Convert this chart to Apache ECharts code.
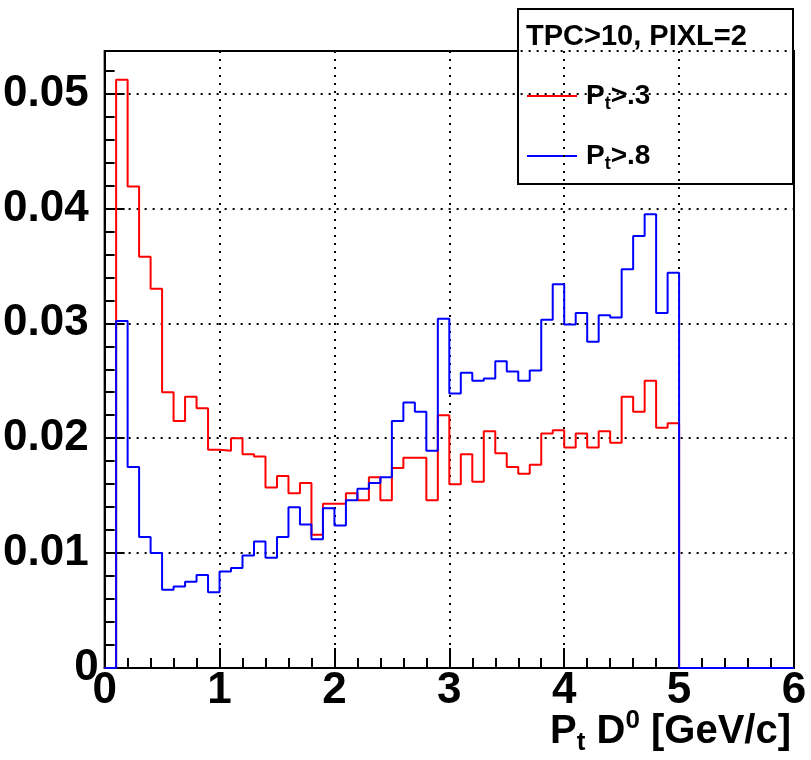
<!DOCTYPE html>
<html>
<head>
<meta charset="utf-8">
<script src="https://cdn.jsdelivr.net/npm/echarts@6/dist/echarts.min.js"></script>
<style>
  html, body { margin: 0; padding: 0; background: #ffffff; }
  #chart { width: 811px; height: 760px; }
</style>
</head>
<body>
<div id="chart"></div>
<script>
// Histogram binning: 60 bins of 0.1 GeV/c from 0 to 6
const binWidth = 0.1;
const xMin = 0;
const xMax = 6;
const yMin = 0;
const yMax = 0.0537;

// Normalised D0 pT distribution, track pT > 0.3 GeV/c
const redValues = [
  0, 0.0512, 0.0419, 0.0358, 0.0330, 0.0240, 0.0215, 0.0236, 0.0226, 0.0190,
  0.0189, 0.0200, 0.0186, 0.0184, 0.0157, 0.0167, 0.0152, 0.0161, 0.0116, 0.0143,
  0.0143, 0.0152, 0.0146, 0.0166, 0.0146, 0.0174, 0.0183, 0.0183, 0.0146, 0.0220,
  0.0160, 0.0186, 0.0162, 0.0206, 0.0187, 0.0175, 0.0169, 0.0177, 0.0204, 0.0207,
  0.0192, 0.0204, 0.0192, 0.0206, 0.0196, 0.0236, 0.0223, 0.0250, 0.0209, 0.0213,
  0, 0, 0, 0, 0, 0, 0, 0, 0, 0
];

// Normalised D0 pT distribution, track pT > 0.8 GeV/c
const blueValues = [
  0, 0.0302, 0.0175, 0.0114, 0.0100, 0.0068, 0.0071, 0.0075, 0.0081, 0.0066,
  0.0084, 0.0087, 0.0098, 0.0110, 0.0096, 0.0114, 0.0140, 0.0125, 0.0112, 0.0139,
  0.0124, 0.0146, 0.0156, 0.0161, 0.0166, 0.0215, 0.0231, 0.0223, 0.0189, 0.0304,
  0.0239, 0.0257, 0.0250, 0.0252, 0.0267, 0.0258, 0.0250, 0.0259, 0.0303, 0.0334,
  0.0299, 0.0309, 0.0284, 0.0307, 0.0305, 0.0347, 0.0376, 0.0395, 0.0309, 0.0344,
  0, 0, 0, 0, 0, 0, 0, 0, 0, 0
];

const seriesNames = ['Pt>.3', 'Pt>.8'];
const legendTitle = 'TPC>10, PIXL=2';
const xMajorStep = 1;
const yMajorStep = 0.01;
const yMinorStep = 0.002;

const FONT = '"Liberation Sans", Arial, Helvetica, sans-serif';

// Turn bin contents into step-line points at the bin low edges
function stepPoints(values) {
  const pts = values.map((v, i) => [Number((xMin + i * binWidth).toFixed(3)), v]);
  pts.push([xMax, values[values.length - 1]]);
  return pts;
}

const chart = echarts.init(document.getElementById('chart'), null, { renderer: 'canvas' });

const dotted = { color: '#000', width: 2, type: [2, 6] };
const tickFont = { fontFamily: FONT, fontWeight: 'bold', fontSize: 44, color: '#000' };

const option = {
  backgroundColor: '#ffffff',
  animation: false,
  grid: {
    left: 103, top: 51, right: 17, bottom: 92,
    show: true, borderColor: '#000', borderWidth: 2, backgroundColor: 'transparent'
  },
  xAxis: {
    type: 'value',
    min: xMin, max: xMax, interval: xMajorStep,
    axisLine: { show: true, onZero: false, lineStyle: { color: '#000', width: 2 } },
    axisTick: { show: true, inside: true, length: 20, lineStyle: { color: '#000', width: 2 } },
    minorTick: { show: true, splitNumber: 5, length: 10, lineStyle: { color: '#000', width: 2 } },
    axisLabel: Object.assign({
      show: true, margin: 1,
      formatter: v => String(Math.round(v))
    }, tickFont),
    splitLine: { show: true, lineStyle: dotted }
  },
  yAxis: [
    {
      type: 'value',
      min: yMin, max: yMax, interval: yMajorStep,
      axisLine: { show: true, onZero: false, lineStyle: { color: '#000', width: 2 } },
      axisTick: { show: true, inside: true, length: 20, lineStyle: { color: '#000', width: 2 } },
      axisLabel: Object.assign({
        show: true, margin: 6, showMaxLabel: false,
        formatter: v => (v === 0 ? '{z|0}' : '{n|' + v.toFixed(2) + '}'),
        rich: {
          z: Object.assign({}, tickFont),
          n: Object.assign({ padding: [0, 10, 0, 0] }, tickFont)
        }
      }, tickFont),
      splitLine: { show: true, lineStyle: dotted }
    },
    {
      // minor tick marks every 0.002
      type: 'value', position: 'left',
      min: yMin, max: yMax, interval: yMinorStep,
      axisLine: { show: false },
      axisTick: { show: true, inside: true, length: 10, lineStyle: { color: '#000', width: 2 } },
      axisLabel: { show: false },
      splitLine: { show: false }
    }
  ],
  series: [
    {
      name: seriesNames[0], type: 'line', step: 'end', symbol: 'none',
      clip: false, z: 3,
      lineStyle: { color: '#ff0000', width: 2 },
      data: stepPoints(redValues)
    },
    {
      name: seriesNames[1], type: 'line', step: 'end', symbol: 'none',
      clip: false, z: 4,
      lineStyle: { color: '#0000ff', width: 2 },
      data: stepPoints(blueValues)
    }
  ],
  graphic: [
    {
      // x-axis title
      type: 'text', x: 791, y: 708, z: 10,
      style: {
        text: '{m|P}{s|t}{m| D}{p|0}{m| [GeV/c]}',
        align: 'right', verticalAlign: 'top',
        rich: {
          m: { fontFamily: FONT, fontWeight: 'bold', fontSize: 40, lineHeight: 48, fill: '#000' },
          s: { fontFamily: FONT, fontWeight: 'bold', fontSize: 26, lineHeight: 22, verticalAlign: 'bottom', fill: '#000' },
          p: { fontFamily: FONT, fontWeight: 'bold', fontSize: 26, lineHeight: 26, verticalAlign: 'top', fill: '#000' }
        }
      }
    },
    {
      // legend box
      type: 'group', z: 20,
      children: [
        { type: 'rect', shape: { x: 518, y: 9, width: 275, height: 175 },
          style: { fill: '#fff', stroke: '#000', lineWidth: 2 } },
        { type: 'text', x: 526, y: 37,
          style: { text: legendTitle, fontFamily: FONT, fontWeight: 'bold', fontSize: 29,
                   fill: '#000', verticalAlign: 'middle', align: 'left' } },
        { type: 'line', shape: { x1: 527, y1: 96, x2: 577, y2: 96 },
          style: { stroke: '#ff0000', lineWidth: 2 } },
        { type: 'text', x: 586, y: 96,
          style: {
            text: '{m|P}{s|t}{m|>.3}', verticalAlign: 'middle', align: 'left',
            rich: {
              m: { fontFamily: FONT, fontWeight: 'bold', fontSize: 28, lineHeight: 34, fill: '#000' },
              s: { fontFamily: FONT, fontWeight: 'bold', fontSize: 18, lineHeight: 16, verticalAlign: 'bottom', fill: '#000' }
            }
          } },
        { type: 'line', shape: { x1: 527, y1: 156, x2: 577, y2: 156 },
          style: { stroke: '#0000ff', lineWidth: 2 } },
        { type: 'text', x: 586, y: 156,
          style: {
            text: '{m|P}{s|t}{m|>.8}', verticalAlign: 'middle', align: 'left',
            rich: {
              m: { fontFamily: FONT, fontWeight: 'bold', fontSize: 28, lineHeight: 34, fill: '#000' },
              s: { fontFamily: FONT, fontWeight: 'bold', fontSize: 18, lineHeight: 16, verticalAlign: 'bottom', fill: '#000' }
            }
          } }
      ]
    }
  ]
};

chart.setOption(option);
</script>
</body>
</html>
